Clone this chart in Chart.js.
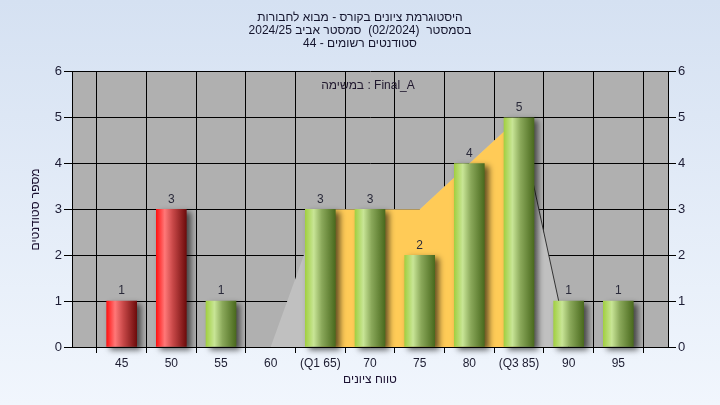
<!DOCTYPE html>
<html>
<head>
<meta charset="utf-8">
<script src="https://cdn.jsdelivr.net/npm/chart.js@4.4.1/dist/chart.umd.min.js"></script>
<style>
  html, body { margin: 0; padding: 0; }
  #chartBox { width: 720px; height: 405px; background: linear-gradient(#d5e1f2, #f1f6fd); }
</style>
</head>
<body>
<div id="chartBox"><canvas id="histChart" width="720" height="405"></canvas></div>
<script>
  // data
  const gradeLabels = ['', '45', '50', '55', '60', '(Q1 65)', '70', '75', '80', '(Q3 85)', '90', '95', ''];
  const studentCounts = [null, 1, 3, 1, null, 3, 3, 2, 4, 5, 1, 1, null];
  const failingGrades = ['45', '50'];
  const spreadArea = [null, null, null, null, 0, 3, 3, 3, 4, 5, 0, null, null];
  const quartileBand = [null, null, null, null, null, 3, 3, 3, 4, 5, null, null, null];
  const tailLine = [null, null, null, null, null, null, null, null, null, 5, 0, null, null];
  const yTicks = [0, 1, 2, 3, 4, 5, 6];

  const titleLines = [
    '\u202Bהיסטוגרמת ציונים בקורס - מבוא לחבורות\u202C',
    '\u202Bבסמסטר  (02/2024)  סמסטר אביב 2024/25\u202C',
    '\u202Bסטודנטים רשומים - 44\u202C'
  ];
  const taskText = 'במשימה : Final_A';

  Chart.defaults.font.family = "'Liberation Sans', Arial, sans-serif";
  Chart.defaults.font.size = 12;
  Chart.defaults.color = '#1c1c30';

  // cylinder look for the bars
  function barFill(context) {
    const failing = failingGrades.includes(gradeLabels[context.dataIndex]);
    const plain = failing ? '#e03030' : '#a6d14a';
    if (context.dataIndex === undefined) return plain;
    const chart = context.chart;
    const xs = chart.scales.x;
    if (!xs) return plain;
    const cx = xs.getPixelForValue(context.dataIndex);
    if (!isFinite(cx)) return plain;
    const g = chart.ctx.createLinearGradient(cx - 15, 0, cx + 15, 0);
    if (failing) {
      g.addColorStop(0, '#ff1414');
      g.addColorStop(0.28, '#ff7878');
      g.addColorStop(0.55, '#c84848');
      g.addColorStop(1, '#6e0c0c');
    } else {
      g.addColorStop(0, '#a2d042');
      g.addColorStop(0.28, '#c8e596');
      g.addColorStop(0.55, '#8aa85a');
      g.addColorStop(1, '#4a6a1e');
    }
    return g;
  }

  const plotBg = {
    id: 'plotBg',
    beforeDraw(chart) {
      const {ctx, chartArea: a} = chart;
      ctx.save();
      ctx.fillStyle = '#b0b0b0';
      ctx.fillRect(a.left, a.top, a.right - a.left, a.bottom - a.top);
      ctx.restore();
    }
  };

  const barShadow = {
    id: 'barShadow',
    beforeDatasetDraw(chart, args) {
      if (args.meta.type !== 'bar') return;
      const c = chart.ctx;
      c.save();
      c.shadowColor = 'rgba(0,0,0,0.6)';
      c.shadowBlur = 6;
      c.shadowOffsetX = 4;
      c.shadowOffsetY = 3;
    },
    afterDatasetDraw(chart, args) {
      if (args.meta.type === 'bar') chart.ctx.restore();
    }
  };

  const valueLabels = {
    id: 'valueLabels',
    afterDatasetsDraw(chart) {
      const ctx = chart.ctx;
      const a = chart.chartArea;
      ctx.save();
      ctx.font = "12px 'Liberation Sans', Arial, sans-serif";
      ctx.fillStyle = '#2a2a3a';
      ctx.textAlign = 'center';
      ctx.textBaseline = 'bottom';
      const meta = chart.getDatasetMeta(0);
      meta.data.forEach((el, i) => {
        if (studentCounts[i] == null) return;
        ctx.fillText(String(studentCounts[i]), el.x, el.y - 4);
      });
      // task name
      ctx.fillStyle = '#20182e';
      ctx.textBaseline = 'middle';
      ctx.fillText(taskText, (a.left + a.right) / 2 - 2, a.top + 14);
      ctx.restore();
    }
  };

  const config = {
    type: 'bar',
    data: {
      labels: gradeLabels,
      datasets: [{
        type: 'bar',
        data: studentCounts,
        backgroundColor: barFill,
        barThickness: 30,
        order: 0,
        clip: false
      }, {
        type: 'line',
        data: tailLine,
        borderColor: '#333333',
        borderWidth: 1,
        pointRadius: 0,
        fill: false,
        tension: 0,
        order: 1
      }, {
        type: 'line',
        data: quartileBand,
        borderWidth: 0,
        borderColor: 'rgba(0,0,0,0)',
        backgroundColor: '#ffcb57',
        pointRadius: 0,
        fill: 'origin',
        tension: 0,
        order: 2
      }, {
        type: 'line',
        data: spreadArea,
        borderWidth: 0,
        borderColor: 'rgba(0,0,0,0)',
        backgroundColor: '#c0c0c0',
        pointRadius: 0,
        fill: 'origin',
        tension: 0,
        order: 3
      }]
    },
    options: {
      responsive: false,
      animation: false,
      devicePixelRatio: 1,
      layout: { padding: 0 },
      plugins: {
        legend: { display: false },
        tooltip: { enabled: false },
        title: {
          display: true,
          text: titleLines,
          color: '#14142c',
          font: { size: 12, weight: 'normal', lineHeight: 1.08 },
          padding: { top: 11, bottom: 22 }
        }
      },
      scales: {
        x: {
          offset: false,
          grid: { color: '#000', lineWidth: 1, tickLength: 6 },
          border: { color: '#000', z: 1 },
          ticks: { autoSkip: false, maxRotation: 0, padding: 3, color: '#1c1c30' },
          title: { display: true, text: 'טווח ציונים', color: '#1a1030', padding: { top: 0, bottom: 18 } },
          afterFit(s) { s.height = 58; }
        },
        y: {
          position: 'left',
          min: 0,
          max: 6,
          afterBuildTicks(s) { s.ticks = yTicks.map(v => ({ value: v })); },
          grid: { color: '#000', lineWidth: 1, tickLength: 8 },
          border: { color: '#000' },
          ticks: { padding: 2, color: '#1c1c34', font: { size: 13 } },
          title: { display: true, text: 'מספר סטודנטים', color: '#1a1030', padding: { top: 28, bottom: 0 } },
          afterFit(s) { s.width = 72; }
        },
        y2: {
          position: 'right',
          min: 0,
          max: 6,
          afterBuildTicks(s) { s.ticks = yTicks.map(v => ({ value: v })); },
          grid: { color: '#000', drawOnChartArea: false, tickLength: 8 },
          border: { color: '#000' },
          ticks: { padding: 2, color: '#1c1c34', font: { size: 13 } },
          afterFit(s) { s.width = 52; }
        }
      }
    },
    plugins: [plotBg, barShadow, valueLabels]
  };

  const histChart = new Chart(document.getElementById('histChart'), config);
</script>
</body>
</html>
